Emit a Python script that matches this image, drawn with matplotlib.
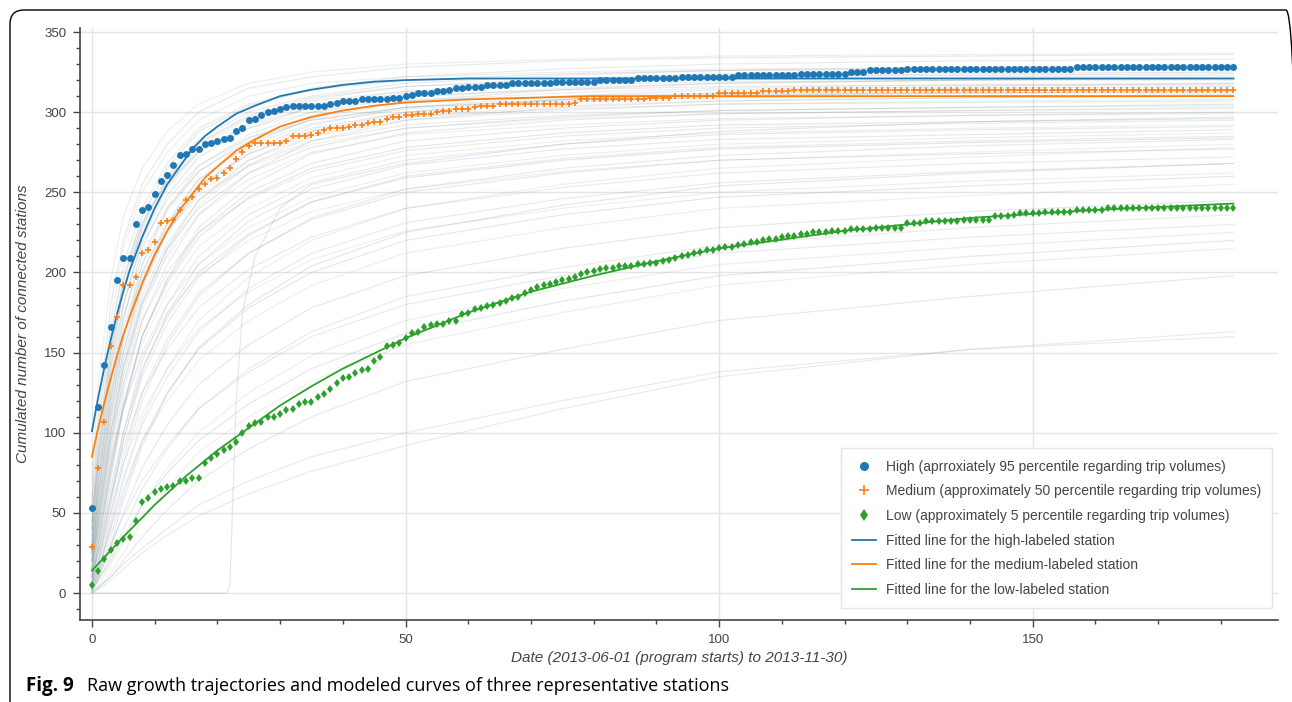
import matplotlib
matplotlib.use("Agg")
import matplotlib.pyplot as plt
from matplotlib.patches import FancyBboxPatch
from matplotlib.lines import Line2D
from matplotlib.ticker import MultipleLocator
from matplotlib.transforms import IdentityTransform

# days since 2013-06-01 (0 .. 182)
days = list(range(183))

# cumulated number of connected stations, one value per day
high = [53, 116, 142, 166, 195, 209, 209, 230, 239, 241,
        249, 257, 261, 267, 273, 274, 277, 277, 280, 281,
        282, 283, 284, 288, 290, 295, 296, 298, 300, 301,
        302, 303, 304, 304, 304, 304, 304, 304, 305, 306,
        307, 307, 307, 308, 308, 308, 308, 308, 309, 309,
        310, 311, 312, 312, 312, 313, 313, 314, 315, 315,
        316, 316, 316, 317, 317, 317, 317, 318, 318, 318,
        318, 318, 318, 318, 319, 319, 319, 319, 319, 319,
        319, 320, 320, 320, 320, 320, 320, 321, 321, 321,
        321, 321, 321, 321, 322, 322, 322, 322, 322, 322,
        322, 322, 322, 323, 323, 323, 323, 323, 323, 323,
        323, 323, 323, 324, 324, 324, 324, 324, 324, 324,
        324, 325, 325, 325, 326, 326, 326, 326, 326, 326,
        327, 327, 327, 327, 327, 327, 327, 327, 327, 327,
        327, 327, 327, 327, 327, 327, 327, 327, 327, 327,
        327, 327, 327, 327, 327, 327, 327, 328, 328, 328,
        328, 328, 328, 328, 328, 328, 328, 328, 328, 328,
        328, 328, 328, 328, 328, 328, 328, 328, 328, 328,
        328, 328, 328]

medium = [29, 78, 107, 154, 172, 192, 192, 197, 212, 214,
          219, 231, 232, 233, 239, 245, 247, 252, 255, 258,
          259, 262, 265, 271, 275, 279, 281, 281, 281, 281,
          281, 282, 285, 285, 285, 286, 287, 289, 290, 290,
          290, 291, 292, 292, 293, 294, 294, 296, 297, 297,
          298, 298, 299, 299, 299, 300, 301, 301, 302, 302,
          302, 303, 304, 304, 304, 305, 305, 305, 305, 305,
          305, 305, 305, 305, 305, 305, 305, 306, 308, 308,
          308, 308, 308, 308, 308, 308, 308, 308, 308, 309,
          309, 309, 309, 310, 310, 310, 310, 310, 310, 310,
          312, 312, 312, 312, 312, 312, 312, 313, 313, 313,
          313, 313, 314, 314, 314, 314, 314, 314, 314, 314,
          314, 314, 314, 314, 314, 314, 314, 314, 314, 314,
          314, 314, 314, 314, 314, 314, 314, 314, 314, 314,
          314, 314, 314, 314, 314, 314, 314, 314, 314, 314,
          314, 314, 314, 314, 314, 314, 314, 314, 314, 314,
          314, 314, 314, 314, 314, 314, 314, 314, 314, 314,
          314, 314, 314, 314, 314, 314, 314, 314, 314, 314,
          314, 314, 314]

low = [5, 14, 21, 27, 31, 34, 35, 45, 57, 59,
       63, 65, 66, 67, 70, 70, 72, 72, 81, 84,
       87, 89, 91, 94, 100, 104, 106, 107, 110, 110,
       112, 114, 115, 118, 119, 119, 122, 124, 127, 131,
       134, 135, 137, 139, 140, 145, 147, 154, 155, 156,
       159, 162, 163, 166, 167, 168, 168, 170, 170, 174,
       175, 177, 178, 179, 180, 181, 182, 184, 185, 187,
       189, 191, 192, 193, 194, 195, 196, 197, 199, 200,
       201, 202, 203, 203, 204, 204, 204, 205, 205, 206,
       206, 207, 208, 209, 210, 211, 212, 213, 214, 214,
       215, 216, 216, 217, 218, 219, 219, 220, 221, 221,
       222, 223, 223, 224, 224, 225, 225, 225, 226, 226,
       226, 227, 227, 227, 227, 228, 228, 228, 228, 228,
       231, 231, 231, 232, 232, 232, 232, 232, 232, 233,
       233, 233, 233, 233, 235, 235, 235, 236, 237, 237,
       237, 237, 238, 238, 238, 238, 238, 239, 239, 239,
       239, 239, 240, 240, 240, 240, 240, 240, 240, 240,
       240, 240, 240, 240, 240, 240, 240, 240, 240, 240,
       240, 240, 240]

# fitted curves
fit_days = [0, 1, 2, 3, 4, 5, 6, 8, 10, 12, 14, 16, 18, 20, 23, 26, 30,
            35, 40, 45, 50, 60, 80, 120, 182]
fit_high = [101, 122, 141, 158, 174, 188, 201, 222, 240, 255, 266, 277, 285,
            291, 299, 304, 310, 314, 317, 319, 320, 321, 321, 321, 321]
fit_medium = [85, 103, 119, 134, 148, 161, 172, 193, 211, 226, 239, 249, 259,
              266, 276, 283, 291, 297, 301, 304, 306, 308, 310, 310, 310]
fit_low_days = [0, 5, 10, 15, 20, 25, 30, 35, 40, 50, 60, 70, 80, 90, 100,
                120, 140, 160, 182]
fit_low = [14, 35, 55, 73, 89, 103, 117, 129, 140, 159, 175, 188, 198, 207,
           215, 226, 234, 239, 243]

# raw trajectories of the other stations (rough reading)
bg_days = [0, 1, 3, 5, 8, 12, 17, 25, 35, 50, 75, 100, 140, 182]
bg_values = [
    [60, 110, 180, 220, 255, 280, 300, 315, 322, 328, 332, 334, 335, 336],
    [40, 90, 160, 205, 240, 268, 290, 305, 315, 322, 327, 330, 332, 333],
    [30, 70, 140, 190, 230, 260, 283, 300, 310, 318, 323, 326, 328, 330],
    [50, 100, 170, 215, 250, 275, 295, 310, 318, 322, 325, 327, 328, 329],
    [20, 60, 120, 170, 215, 248, 272, 290, 303, 312, 318, 322, 324, 325],
    [35, 75, 135, 180, 220, 252, 275, 293, 305, 313, 318, 320, 322, 323],
    [25, 55, 110, 150, 195, 230, 258, 280, 296, 307, 314, 318, 320, 321],
    [45, 95, 155, 195, 230, 258, 280, 297, 307, 313, 317, 319, 320, 320],
    [15, 45, 100, 145, 190, 225, 253, 276, 292, 303, 310, 314, 316, 318],
    [30, 65, 125, 165, 205, 238, 263, 284, 298, 307, 312, 315, 317, 318],
    [10, 40, 90, 135, 180, 215, 245, 270, 288, 300, 308, 312, 315, 316],
    [55, 105, 165, 200, 232, 256, 275, 290, 300, 306, 310, 312, 313, 314],
    [20, 50, 105, 150, 192, 226, 252, 274, 290, 300, 306, 310, 312, 313],
    [40, 80, 140, 180, 218, 245, 267, 284, 295, 303, 308, 311, 312, 312],
    [5, 30, 80, 125, 170, 205, 236, 262, 282, 295, 303, 307, 309, 310],
    [25, 60, 115, 155, 195, 225, 250, 270, 285, 295, 301, 305, 307, 308],
    [15, 40, 95, 140, 182, 215, 240, 262, 278, 290, 297, 301, 303, 305],
    [30, 70, 125, 160, 198, 226, 248, 266, 280, 290, 296, 299, 301, 302],
    [10, 30, 75, 115, 160, 195, 225, 250, 268, 282, 290, 295, 298, 300],
    [20, 45, 95, 130, 170, 200, 225, 246, 263, 276, 285, 290, 293, 295],
    [5, 20, 60, 100, 145, 180, 210, 236, 256, 270, 280, 286, 289, 291],
    [15, 35, 80, 115, 150, 180, 205, 228, 247, 262, 273, 280, 284, 287],
    [10, 25, 65, 100, 140, 172, 200, 224, 244, 259, 270, 277, 281, 284],
    [20, 40, 85, 115, 148, 175, 198, 220, 238, 252, 263, 270, 275, 280],
    [5, 15, 50, 85, 125, 158, 187, 212, 233, 250, 262, 270, 274, 277],
    [10, 25, 60, 90, 125, 152, 178, 202, 222, 240, 253, 262, 268, 272],
    [3, 12, 40, 70, 105, 135, 163, 190, 212, 231, 246, 256, 263, 268],
    [8, 20, 50, 80, 112, 140, 165, 188, 208, 226, 240, 250, 257, 262],
    [2, 10, 35, 62, 95, 125, 152, 178, 200, 220, 236, 247, 254, 260],
    [5, 15, 40, 65, 95, 120, 145, 170, 192, 212, 228, 240, 248, 255],
    [3, 10, 28, 50, 78, 105, 130, 155, 178, 198, 215, 228, 238, 245],
    [2, 8, 22, 40, 65, 90, 115, 140, 163, 185, 203, 217, 228, 236],
    [5, 12, 30, 48, 70, 92, 115, 138, 160, 180, 198, 212, 222, 230],
    [1, 5, 18, 32, 55, 78, 100, 125, 148, 170, 190, 205, 216, 225],
    [2, 8, 20, 35, 55, 75, 95, 118, 140, 162, 182, 198, 210, 220],
    [0, 3, 12, 25, 45, 65, 88, 110, 132, 155, 175, 192, 205, 215],
    [1, 4, 10, 20, 35, 52, 70, 90, 110, 132, 152, 170, 185, 198],
    [0, 2, 8, 15, 25, 36, 48, 62, 76, 92, 115, 135, 152, 163],
    [0, 3, 10, 18, 28, 40, 55, 70, 85, 100, 120, 138, 152, 160],
    [70, 130, 195, 235, 265, 288, 305, 318, 325, 330, 333, 335, 336, 337],
    [45, 85, 150, 195, 235, 265, 288, 304, 314, 320, 324, 326, 327, 328],
    [25, 65, 130, 178, 222, 254, 278, 296, 308, 316, 321, 324, 326, 327],
    [35, 80, 145, 188, 228, 258, 281, 298, 309, 316, 320, 322, 323, 324],
    [15, 50, 110, 160, 205, 240, 266, 286, 300, 309, 315, 318, 320, 322],
    [40, 85, 150, 190, 226, 254, 276, 292, 303, 310, 314, 316, 317, 317],
    [20, 55, 115, 158, 200, 232, 258, 279, 293, 302, 308, 311, 312, 313],
    [30, 70, 130, 172, 210, 240, 263, 282, 295, 303, 307, 309, 310, 311],
    [10, 35, 85, 130, 176, 212, 242, 267, 285, 297, 304, 307, 309, 310],
    [25, 60, 120, 160, 200, 230, 254, 274, 288, 297, 302, 305, 306, 307],
    [15, 45, 100, 142, 185, 218, 245, 267, 282, 292, 298, 301, 303, 304],
    [5, 25, 70, 115, 160, 196, 228, 254, 274, 287, 295, 299, 301, 303],
    [20, 50, 100, 140, 180, 210, 236, 258, 275, 286, 292, 296, 298, 299],
    [8, 30, 75, 118, 160, 193, 222, 247, 265, 278, 287, 292, 294, 296],
    [12, 35, 80, 118, 156, 188, 216, 240, 259, 273, 282, 287, 290, 292],
    [4, 18, 55, 95, 138, 174, 205, 232, 252, 267, 277, 283, 286, 289],
    [6, 20, 58, 95, 135, 168, 197, 223, 244, 260, 271, 278, 282, 285],
    [2, 12, 45, 80, 120, 155, 185, 212, 234, 252, 265, 273, 279, 283],
    [4, 14, 42, 72, 108, 140, 170, 197, 220, 240, 255, 265, 272, 278],
    [1, 8, 30, 58, 92, 124, 153, 180, 204, 225, 242, 254, 262, 268],
]
late_days = [0, 21.5, 22, 23, 24, 26, 30, 35, 50, 75, 100, 140, 182]
late_values = [0, 0, 5, 120, 175, 210, 240, 255, 268, 280, 288, 294, 297]

bg_colors = ['#5a7a9a', '#6f8f6a', '#7a7a9a', '#8a9aaa', '#4f6f8f', '#9aa58a']
c_high, c_med, c_low = '#1f77b4', '#ff7f0e', '#2ca02c'
txt = '#444444'

plt.rcParams['font.family'] = ['Liberation Sans', 'DejaVu Sans']

fig = plt.figure(figsize=(12.92, 7.02), dpi=100)
ax = fig.add_axes([80 / 1292, 1 - 620 / 702, 1198 / 1292, 592 / 702])

for i, vals in enumerate(bg_values):
    ax.plot(bg_days, vals, color=bg_colors[i % len(bg_colors)], lw=0.8,
            alpha=0.17, zorder=1)
ax.plot(late_days, late_values, color=bg_colors[2], lw=0.8, alpha=0.2, zorder=1)

ax.plot(fit_days, fit_high, color=c_high, lw=1.3, zorder=3)
ax.plot(fit_days, fit_medium, color=c_med, lw=1.3, zorder=3)
ax.plot(fit_low_days, fit_low, color=c_low, lw=1.3, zorder=3)

ax.plot(days, high, 'o', color=c_high, ms=5, mew=0, zorder=4)
ax.plot(days, medium, '+', color=c_med, ms=4.5, mew=1.2, zorder=4)
ax.plot(days, low, 'd', color=c_low, ms=4.5, mew=0, zorder=4)

ax.set_xlim(-1.9, 189.1)
ax.set_ylim(-16.8, 352.5)
ax.xaxis.set_major_locator(MultipleLocator(50))
ax.xaxis.set_minor_locator(MultipleLocator(10))
ax.yaxis.set_major_locator(MultipleLocator(50))
ax.yaxis.set_minor_locator(MultipleLocator(10))
ax.grid(True, which='major', color='#e4e4e4', lw=1)
ax.set_axisbelow(True)
for s in ['top', 'right']:
    ax.spines[s].set_visible(False)
for s in ['left', 'bottom']:
    ax.spines[s].set_color(txt)
    ax.spines[s].set_linewidth(1.2)
ax.tick_params(which='major', direction='out', length=5, width=1, color=txt,
               labelsize=9.5, labelcolor=txt, pad=5)
ax.tick_params(which='minor', direction='out', length=3, width=1, color=txt)

ax.set_xlabel('Date (2013-06-01 (program starts) to 2013-11-30)',
              fontsize=11, style='italic', color=txt, labelpad=4)
ax.set_ylabel('Cumulated number of connected stations',
              fontsize=11, style='italic', color=txt, labelpad=10)

handles = [
    Line2D([], [], ls='', marker='o', color=c_high, ms=6.5, mew=0),
    Line2D([], [], ls='', marker='+', color=c_med, ms=7, mew=1.2),
    Line2D([], [], ls='', marker='d', color=c_low, ms=6.5, mew=0),
    Line2D([], [], color=c_high, lw=1.3),
    Line2D([], [], color=c_med, lw=1.3),
    Line2D([], [], color=c_low, lw=1.3),
]
labels = [
    'High (aprroxiately 95 percentile regarding trip volumes)',
    'Medium (approximately 50 percentile regarding trip volumes)',
    'Low (approximately 5 percentile regarding trip volumes)',
    'Fitted line for the high-labeled station',
    'Fitted line for the medium-labeled station',
    'Fitted line for the low-labeled station',
]
leg = ax.legend(handles, labels, loc='lower right', bbox_to_anchor=(0.995, 0.02),
                borderaxespad=0, fontsize=10, frameon=True, fancybox=False,
                edgecolor='#e5e5e5', framealpha=1, handlelength=1.7,
                handletextpad=0.7, labelspacing=0.77, borderpad=0.8,
                labelcolor=txt)
leg.get_frame().set_linewidth(1)

border = FancyBboxPatch((10, -30), 1290, 702 - 10 + 30,
                        boxstyle='round,pad=0,rounding_size=14',
                        transform=IdentityTransform(), fill=False,
                        edgecolor='black', lw=1)
fig.add_artist(border)

fig.text(26 / 1292, 1 - 686 / 702, 'Fig. 9', fontsize=13.5, weight='bold',
         family='Open Sans', va='center', ha='left')
fig.text(87 / 1292, 1 - 686 / 702,
         'Raw growth trajectories and modeled curves of three representative stations',
         fontsize=13, family='Open Sans', va='center', ha='left')

fig.savefig('out.png', dpi=100)
